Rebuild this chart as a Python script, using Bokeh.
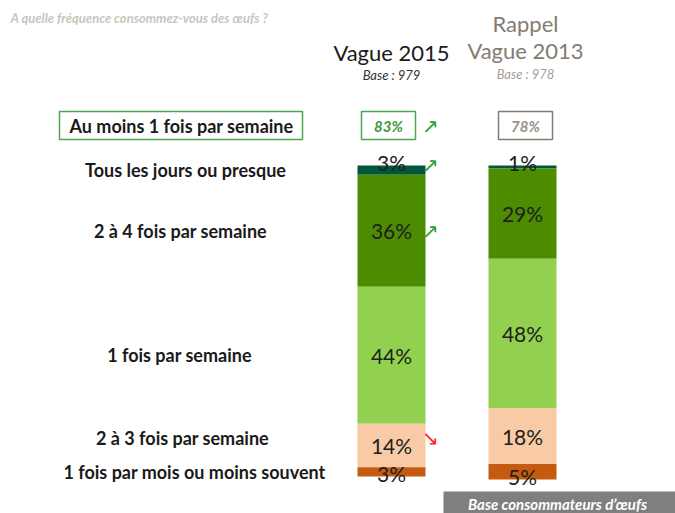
from bokeh.plotting import figure
from bokeh.models import Range1d, ColumnDataSource
from bokeh.core.properties import value
from bokeh.embed import file_html
from bokeh.resources import INLINE

# ---- data ----
categories = ["Tous les jours ou presque", "2 à 4 fois par semaine", "1 fois par semaine",
              "2 à 3 fois par semaine", "1 fois par mois ou moins souvent"]
v2015 = [3, 36, 44, 14, 3]
v2013 = [1, 29, 48, 18, 5]
waves = ["Vague 2015", "Vague 2013"]
bases = ["Base : 979", "Base : 978"]
weekly = [83, 78]
weekly_label = "Au moins 1 fois par semaine"
trend_2015 = ["up", "up", None, "down", None]
colors = ["#00573c", "#4b8c00", "#92d050", "#f8cba6", "#c55a11"]

FONT = "Lato"
PX_PER_PCT = 3.11
BASE_PY = 476  # pixel row of 0%


def Y(py):
    return (BASE_PY - py) / PX_PER_PCT


p = figure(width=675, height=513, x_range=Range1d(0, 675), y_range=Range1d(Y(513), Y(0)),
           output_backend="svg", toolbar_location=None, min_border=0,
           x_axis_location=None, y_axis_location=None)
p.grid.visible = False
p.outline_line_color = None
p.background_fill_color = "white"

bar_x = [391, 522]
bar_w = 68


def stacks(vals):
    tops, bottoms = [], []
    cum = 100
    for v in vals:
        tops.append(cum)
        bottoms.append(cum - v)
        cum -= v
    return tops, bottoms


for xi, vals in zip(bar_x, [v2015, v2013]):
    tops, bottoms = stacks(vals)
    src = ColumnDataSource(dict(x=[xi] * len(vals), top=tops, bottom=bottoms, color=colors))
    p.vbar(x="x", top="top", bottom="bottom", width=bar_w, fill_color="color",
           line_color=None, source=src)
    mids = []
    for i, (t, b) in enumerate(zip(tops, bottoms)):
        m = (t + b) / 2
        if i == 0 and vals[i] <= 5:
            m = t + 1
        elif i == len(vals) - 1 and vals[i] <= 5:
            m = b + 1
        mids.append(m)
    p.text(x=[xi] * len(vals), y=mids, text=[f"{v}%" for v in vals],
           text_font=value(FONT), text_font_size="21px", text_color="#1e1e1e",
           text_align="center", text_baseline="middle")

# category labels aligned on 2015 segments
tops, bottoms = stacks(v2015)
lab_y = [(t + b) / 2 for t, b in zip(tops, bottoms)]
lab_y[3] += 2.3
lab_x = [185, 180, 179, 182, 194]
p.text(x=lab_x, y=lab_y, text=categories, text_font=value(FONT), text_font_size="18px",
       text_font_style="bold", text_color="#1a1a1a", text_align="center", text_baseline="middle")

# "Au moins 1 fois par semaine" row
yrow = Y(125)
p.rect(x=[180.5], y=[yrow], width=243, height=28 / PX_PER_PCT, fill_color="white",
       line_color="#4ea54e", line_width=1.5)
p.text(x=[181], y=[yrow], text=[weekly_label], text_font=value(FONT), text_font_size="18px",
       text_font_style="bold", text_color="#1a1a1a", text_align="center", text_baseline="middle")

box_cols = ["#4ea54e", "#857b70"]
txt_cols = ["#3a9a3a", "#9a9088"]
box_x = [388, 525]
for bx, w, bc, tc in zip(box_x, weekly, box_cols, txt_cols):
    p.rect(x=[bx], y=[yrow], width=54, height=28 / PX_PER_PCT, fill_color="white",
           line_color=bc, line_width=1.5)
    p.text(x=[bx], y=[yrow], text=[f"{w}%"], text_font=value(FONT), text_font_size="15px",
           text_font_style="bold italic", text_color=tc, text_align="center", text_baseline="middle")

# trend arrows
arrow_y = [yrow] + [lab_y[i] for i, t in enumerate(trend_2015) if t]
arrow_t = ["up"] + [t for t in trend_2015 if t]
arrow_y[1] = Y(164)
p.text(x=[430] * len(arrow_y), y=arrow_y, text=["↗" if t == "up" else "↘" for t in arrow_t],
       text_font=value("DejaVu Sans"), text_font_size="20px",
       text_color=["#2e9e3e" if t == "up" else "#ff2020" for t in arrow_t],
       text_align="center", text_baseline="middle")

# headers
p.text(x=[391], y=[Y(52)], text=[waves[0]], text_font=value(FONT), text_font_size="22px",
       text_color="#1a1a1a", text_align="center", text_baseline="middle")
p.text(x=[391], y=[Y(74)], text=[bases[0]], text_font=value(FONT), text_font_size="13px",
       text_font_style="italic", text_color="#333333", text_align="center", text_baseline="middle")
p.text(x=[525, 525], y=[Y(23), Y(50)], text=["Rappel", waves[1]], text_font=value(FONT),
       text_font_size="22px", text_color="#857b70", text_align="center", text_baseline="middle")
p.text(x=[525], y=[Y(73)], text=[bases[1]], text_font=value(FONT), text_font_size="13px",
       text_font_style="italic", text_color="#a59e96", text_align="center", text_baseline="middle")

# title
p.text(x=[10], y=[Y(17)], text=["A quelle fréquence consommez-vous des œufs ?"],
       text_font=value(FONT), text_font_size="13px", text_font_style="bold italic",
       text_color="#c9c5bd", text_align="left", text_baseline="middle")

# bottom banner
p.quad(left=[443], right=[675], top=[Y(491)], bottom=[Y(513)], fill_color="#7f7f7f", line_color=None)
p.text(x=[557], y=[Y(503)], text=["Base consommateurs d’œufs"], text_font=value(FONT),
       text_font_size="15px", text_font_style="bold italic", text_color="white",
       text_align="center", text_baseline="middle")

open("out.html", "w").write(file_html(p, INLINE))
